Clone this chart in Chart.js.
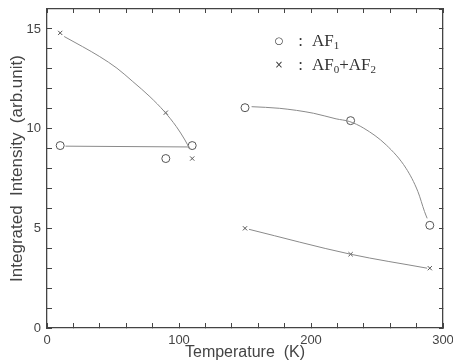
<!DOCTYPE html>
<html>
<head>
<meta charset="utf-8">
<script src="https://cdn.jsdelivr.net/npm/chart.js@4/dist/chart.umd.min.js"></script>
<style>
  body { margin: 0; background: #fff; }
  #wrap { position: relative; width: 453px; height: 364px; }
  #legend { position: absolute; left: 269px; top: 29px; font-family: 'Liberation Serif', serif; font-size: 17px; color: #333; line-height: 24px; }
  #legend .row { white-space: nowrap; }
  #legend .mk { display: inline-block; width: 20px; text-align: center; font-family: 'DejaVu Sans', sans-serif; font-size: 10px; vertical-align: 2px; }
  #legend .col { display: inline-block; width: 23px; text-align: center; }
  #legend sub { font-size: 11px; vertical-align: -3px; line-height: 0; }
</style>
</head>
<body>
<div id="wrap">
  <canvas id="c"></canvas>
  <div id="legend">
    <div class="row"><span class="mk">○</span><span class="col">:</span>AF<sub>1</sub></div>
    <div class="row"><span class="mk">×</span><span class="col">:</span>AF<sub>0</sub>+AF<sub>2</sub></div>
  </div>
</div>
<script>
// measured points, temperature (K) vs integrated intensity (arb. unit)
const temps = [10, 90, 110, 150, 230, 290];
const af1 = [9.15, 8.5, 9.15, 11.05, 10.4, 5.15];
const af0af2 = [14.8, 10.8, 8.5, 5.0, 3.7, 3.0];

// hand-drawn guide lines
const guideLowFlat = [[14, 9.12], [108, 9.08]];
const guideLowCurve = [[13, 14.62], [27, 14.11], [40, 13.61], [53, 13.03], [65, 12.36], [78, 11.6], [89, 10.85], [98, 10.1], [104.5, 9.43], [108, 9.0]];
const guideHighCurve = [[155, 11.1], [176, 11.02], [202, 10.77], [219, 10.49], [229, 10.36], [240, 10.02], [257, 9.18], [272, 8.01], [281, 6.84], [286, 5.84], [288, 5.5]];
const guideHighLine = [[153, 4.95], [230, 3.7], [288, 3.0]];

const xTicks = [0, 100, 200, 300];
const yTicks = [0, 5, 10, 15];

const AXIS = '#444';
const LINE = '#8a8a8a';
const FONT = 'Liberation Sans';
const NARROW = "'Liberation Sans Narrow', 'Liberation Sans'";

const pts = (xs, ys) => xs.map((x, i) => ({ x, y: ys[i] }));
const xy = (arr) => arr.map(([x, y]) => ({ x, y }));

function guide(data) {
  return { data: xy(data), showLine: true, borderColor: LINE, borderWidth: 1, pointRadius: 0, cubicInterpolationMode: 'monotone', fill: false };
}

function range(lo, hi, step) {
  const out = [];
  for (let v = lo; v <= hi; v += step) out.push({ value: v });
  return out;
}

// fixed box sizes so the plot area lands where it does in the picture
function fixBox(size, horizontal) {
  return (s) => {
    if (horizontal) s.height = size; else s.width = size;
    s.paddingLeft = s.paddingRight = s.paddingTop = s.paddingBottom = 0;
  };
}

const tickMarks = (len) => ({ drawOnChartArea: false, drawTicks: true, tickLength: len, tickColor: AXIS, tickWidth: 1 });
const border = { display: true, color: AXIS, width: 1.3 };

new Chart(document.getElementById('c'), {
  type: 'scatter',
  data: {
    datasets: [
      guide(guideLowFlat),
      guide(guideLowCurve),
      guide(guideHighCurve),
      guide(guideHighLine),
      { data: pts(temps, af1), pointStyle: 'circle', pointRadius: 4, borderColor: '#555', backgroundColor: '#fff', borderWidth: 1 },
      { data: pts(temps, af0af2), pointStyle: 'crossRot', pointRadius: 3, borderColor: '#555', borderWidth: 1 }
    ]
  },
  options: {
    responsive: true,
    maintainAspectRatio: false,
    animation: false,
    layout: { padding: 0 },
    plugins: { legend: { display: false }, tooltip: { enabled: false } },
    scales: {
      x: {
        type: 'linear', position: 'bottom', min: 0, max: 300,
        afterBuildTicks: (s) => { s.ticks = range(0, 300, 20); },
        afterFit: fixBox(36, true),
        ticks: { autoSkip: false, maxRotation: 0, padding: 10, color: AXIS, font: { family: NARROW, size: 13 },
                 callback: (v) => (xTicks.includes(v) ? String(v) : '') },
        grid: tickMarks(-5), border,
        title: { display: true, text: 'Temperature  (K)', color: AXIS, font: { family: FONT, size: 16 }, padding: { top: 0, bottom: 2 } }
      },
      y: {
        type: 'linear', position: 'left', min: 0, max: 16,
        afterBuildTicks: (s) => { s.ticks = range(0, 15, 1); },
        afterFit: fixBox(47, false),
        ticks: { autoSkip: false, padding: 11, color: AXIS, font: { family: NARROW, size: 13 },
                 callback: (v) => (yTicks.includes(v) ? String(v) : '') },
        grid: tickMarks(-5), border,
        title: { display: true, text: 'Integrated  Intensity  (arb.unit)', color: AXIS, font: { family: FONT, size: 17 }, padding: { top: 7, bottom: 0 } }
      },
      x2: {
        type: 'linear', position: 'top', min: 0, max: 300,
        afterBuildTicks: (s) => { s.ticks = range(0, 300, 20); },
        afterFit: fixBox(9, true),
        ticks: { display: false },
        grid: tickMarks(-4), border
      },
      y2: {
        type: 'linear', position: 'right', min: 0, max: 16,
        afterBuildTicks: (s) => { s.ticks = range(0, 16, 1); },
        afterFit: fixBox(10, false),
        ticks: { display: false },
        grid: tickMarks(-4), border
      }
    }
  }
});
</script>
</body>
</html>
